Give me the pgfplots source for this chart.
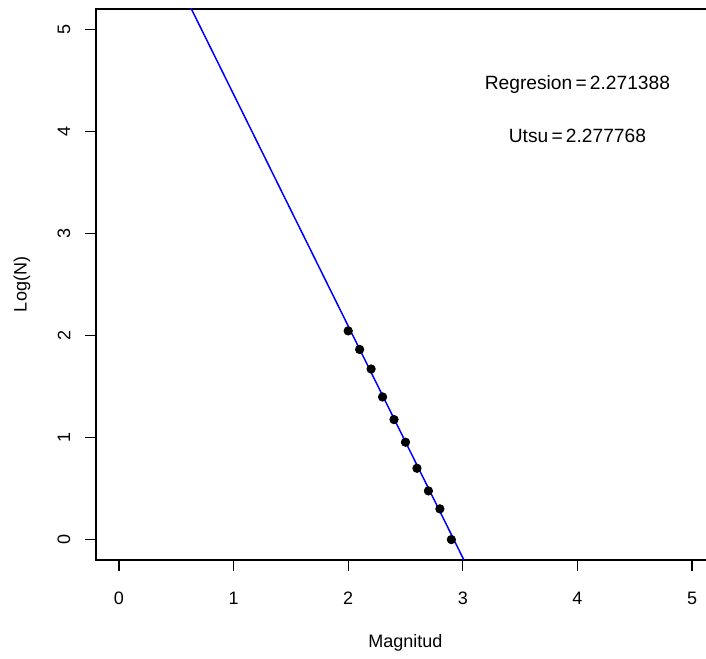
\documentclass[border=0pt]{standalone}
\usepackage{fontspec}
\setmainfont{Liberation Sans}
\usepackage{pgfplots}
\pgfplotsset{compat=1.18}
\begin{document}
\begin{tikzpicture}
\begin{axis}[
  name=ax,
  scale only axis,
  width=309.5pt, height=275.5pt,
  xmin=-0.2, xmax=5.2, ymin=-0.2, ymax=5.2,
  xtick={0,1,2,3,4,5}, ytick={0,1,2,3,4,5},
  xtick pos=bottom, ytick pos=left,
  tick align=outside,
  major tick length=5.5pt,
  every tick/.style={black, line width=0.6pt},
  axis line style={black, line width=0.7pt},
  /pgf/number format/assume math mode=true,
  tick label style={font=\fontsize{9}{10}\selectfont},
  xticklabel style={anchor=center, yshift=-13.5pt},
  yticklabel style={anchor=center, xshift=-10.5pt, rotate=90},
  every axis x label/.style={at={(axis description cs:0.5,0)}, anchor=center, yshift=-41.5pt, font=\fontsize{9}{10}\selectfont},
  every axis y label/.style={at={(axis description cs:0,0.5)}, anchor=center, xshift=-37pt, rotate=90, font=\fontsize{9}{10}\selectfont},
  xlabel={Magnitud},
  ylabel={Log(N)},
]
\addplot[only marks, mark=*, mark size=2.1pt, black] coordinates {
  (2.0,2.0453) (2.1,1.8633) (2.2,1.6721) (2.3,1.3979) (2.4,1.1761)
  (2.5,0.9542) (2.6,0.6990) (2.7,0.4771) (2.8,0.3010) (2.9,0.0)
};
\addplot[blue, line width=0.75pt, no marks] coordinates {
  (-0.2,7.0903) (5.2,-5.1752)
};
\node[font=\fontsize{9.6}{10}\selectfont, yshift=-2pt] at (axis cs:4,4.5) {Regresion\,=\,2.271388};
\node[font=\fontsize{9.6}{10}\selectfont, yshift=-2pt] at (axis cs:4,4) {Utsu\,=\,2.277768};
\end{axis}
\pgfresetboundingbox
\path[use as bounding box] ([shift={(-48pt,-49pt)}]ax.south west) rectangle ([shift={(305pt,280pt)}]ax.south west);
\end{tikzpicture}
\end{document}
